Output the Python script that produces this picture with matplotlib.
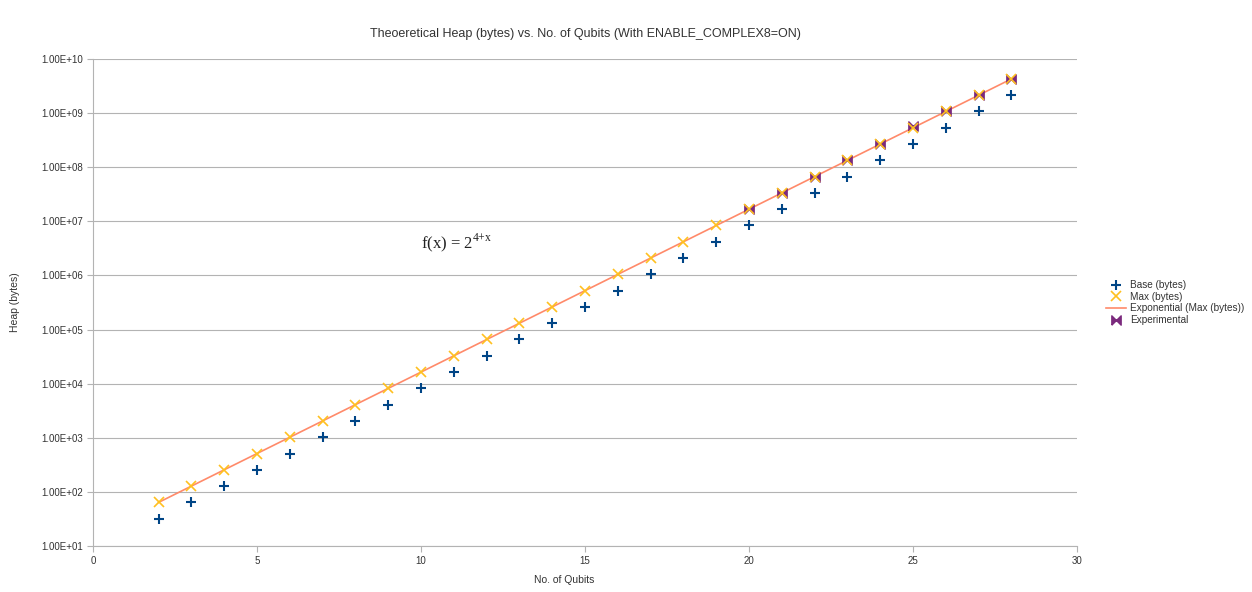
import math
import matplotlib
matplotlib.use("Agg")
import matplotlib.pyplot as plt
from matplotlib.ticker import FixedLocator, FuncFormatter

plt.rcParams['font.family'] = ['Liberation Sans', 'DejaVu Sans']

qubits = [2, 3, 4, 5, 6, 7, 8, 9, 10, 11, 12, 13, 14, 15,
          16, 17, 18, 19, 20, 21, 22, 23, 24, 25, 26, 27, 28]
base_bytes = [32, 64, 128, 256, 512, 1024, 2048, 4096, 8192, 16384,
              32768, 65536, 131072, 262144, 524288, 1048576, 2097152,
              4194304, 8388608, 16777216, 33554432, 67108864, 134217728,
              268435456, 536870912, 1073741824, 2147483648]
max_bytes = [64, 128, 256, 512, 1024, 2048, 4096, 8192, 16384, 32768,
             65536, 131072, 262144, 524288, 1048576, 2097152, 4194304,
             8388608, 16777216, 33554432, 67108864, 134217728, 268435456,
             536870912, 1073741824, 2147483648, 4294967296]
exp_qubits = [20, 21, 22, 23, 24, 25, 26, 27, 28]
exp_bytes = [1.68e7, 3.36e7, 6.72e7, 1.34e8, 2.69e8, 5.9e8, 1.08e9, 2.15e9, 4.3e9]


def sci_fmt(v, pos):
    e = int(round(math.log10(v)))
    return '%.2fE+%02d' % (v / 10 ** e, e)


fig = plt.figure(figsize=(12.52, 5.92), dpi=100)
ax = fig.add_axes([0.0743, 0.0777, 0.786, 0.8226])

ax.plot(qubits, base_bytes, linestyle='none', marker='+', color='#004586',
        markersize=7, markeredgewidth=1.5, label='Base (bytes)', zorder=4)
ax.plot(qubits, max_bytes, linestyle='none', marker='x', color='#ffc020',
        markersize=6.5, markeredgewidth=1.2, label='Max (bytes)', zorder=5)
ax.plot([qubits[0], qubits[-1]], [max_bytes[0], max_bytes[-1]], color='#ff8a6a',
        linewidth=1.2, label='Exponential (Max (bytes))', zorder=3)
ax.scatter(exp_qubits, exp_bytes,
           marker=[(-1, -1), (-1, 1), (1, -1), (1, 1), (-1, -1)],
           color='#7b2a7d', s=45, label='Experimental', zorder=4.5)

ax.set_yscale('log')
ax.set_xlim(0, 30)
ax.set_ylim(10, 1e10)
ax.xaxis.set_major_locator(FixedLocator([0, 5, 10, 15, 20, 25, 30]))
ax.yaxis.set_major_locator(FixedLocator([10.0 ** k for k in range(1, 11)]))
ax.yaxis.set_minor_locator(FixedLocator([]))
ax.yaxis.set_major_formatter(FuncFormatter(sci_fmt))
ax.grid(axis='y', color='#b3b3b3', linewidth=0.8)
ax.set_axisbelow(True)
for s in ['top', 'right']:
    ax.spines[s].set_visible(False)
for s in ['left', 'bottom']:
    ax.spines[s].set_color('#b3b3b3')
ax.tick_params(colors='#b3b3b3', labelcolor='#333333', labelsize=7, length=4)
ax.tick_params(axis='y', pad=3)

ax.set_title('Theoeretical Heap (bytes) vs. No. of Qubits (With ENABLE_COMPLEX8=ON)',
             fontsize=9, color='#333333', pad=16)
fig.text(0.451, 0.02, 'No. of Qubits', fontsize=7.5, color='#333333',
         ha='center', va='center')
fig.text(0.012, 0.49, 'Heap (bytes)', fontsize=7.5, color='#333333',
         ha='center', va='center', rotation=90)

ax.text(10, 10 ** 6.6, r'f(x) = 2$^{\mathregular{4{+}x}}$', fontsize=12,
        family='Liberation Serif', ha='left', va='center', color='#222222')

ax.legend(loc='center left', bbox_to_anchor=(1.024, 0.5), frameon=False,
          fontsize=7.2, handlelength=2.0, handletextpad=0.4, labelspacing=0.15,
          borderpad=0, labelcolor='#333333')

fig.savefig('out.png')
